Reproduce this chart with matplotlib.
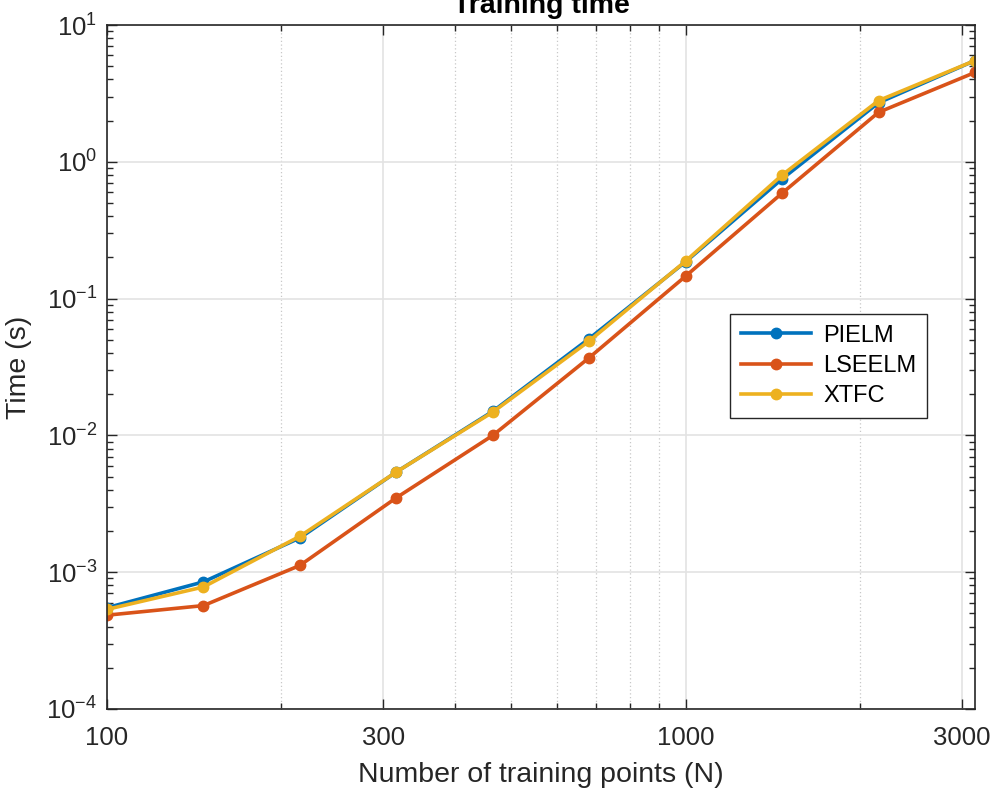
import matplotlib.pyplot as plt
from matplotlib.ticker import FixedLocator, NullFormatter, LogLocator, FuncFormatter
import numpy as np

plt.rcParams['font.family'] = ['Liberation Sans', 'DejaVu Sans']
plt.rcParams['mathtext.fontset'] = 'custom'
plt.rcParams['mathtext.rm'] = 'Liberation Sans'

# number of training points
n_points = [100, 146.8, 215.4, 316.2, 464.2, 681.3, 1000, 1467.8, 2154.4, 3162.3]

# training time (s)
pielm = [5.5e-4, 8.5e-4, 1.78e-3, 5.4e-3, 0.0150, 0.051, 0.186, 0.75, 2.7, 5.5]
lseelm = [4.85e-4, 5.7e-4, 1.12e-3, 3.5e-3, 0.0100, 0.037, 0.146, 0.59, 2.3, 4.5]
xtfc = [5.35e-4, 7.8e-4, 1.83e-3, 5.4e-3, 0.0148, 0.049, 0.188, 0.80, 2.8, 5.5]

series = [('PIELM', pielm, '#0072BD'),
          ('LSEELM', lseelm, '#D95319'),
          ('XTFC', xtfc, '#EDB120')]

xticks = [100, 300, 1000, 3000]
xticklabels = ['100', '300', '1000', '3000']

fig = plt.figure(figsize=(9.95, 7.96), dpi=100)
ax = fig.add_axes([107 / 995, 1 - 709 / 796, (975 - 107) / 995, (709 - 25) / 796])

for name, vals, col in series:
    ax.plot(n_points, vals, '-o', color=col, lw=2.6, ms=7.5, label=name)

ax.set_xscale('log')
ax.set_yscale('log')
ax.set_xlim(100, 3162.3)
ax.set_ylim(1e-4, 10)

ax.xaxis.set_major_locator(FixedLocator(xticks))
ax.set_xticklabels(xticklabels)
ax.xaxis.set_minor_locator(FixedLocator([200, 400, 500, 600, 700, 800, 900, 2000]))
ax.xaxis.set_minor_formatter(NullFormatter())
ax.yaxis.set_major_locator(LogLocator(base=10, numticks=10))
ax.yaxis.set_major_formatter(FuncFormatter(
    lambda v, p: r'$\mathregular{10^{%d}}$' % round(np.log10(v))))
ax.yaxis.set_minor_locator(LogLocator(base=10, subs=np.arange(2, 10), numticks=20))
ax.yaxis.set_minor_formatter(NullFormatter())

ax.grid(True, which='major', color='#e3e3e3', lw=1.2)
ax.grid(True, which='minor', axis='x', color='#c8c8c8', lw=0.9, ls=(0, (1, 2)))
ax.set_axisbelow(True)

ax.tick_params(which='both', direction='in', top=True, right=True, colors='#262626',
               labelsize=18.5, labelcolor='#262626')
ax.tick_params(which='major', length=7, width=1)
ax.tick_params(which='minor', length=4, width=1)
ax.tick_params(axis='x', pad=12)
ax.tick_params(axis='y', pad=7)
for sp in ax.spines.values():
    sp.set_color('#262626')
    sp.set_linewidth(1.2)

ax.set_xlabel('Number of training points (N)', fontsize=20.5, color='#262626', labelpad=9)
ax.set_ylabel('Time (s)', fontsize=20.5, color='#262626', labelpad=10)
ax.set_title('Training time', fontsize=20.5, fontweight='bold', pad=8.6)

leg = ax.legend(loc='upper left', bbox_to_anchor=((730 - 107) / 868, 1 - (314 - 25) / 684),
                fontsize=17, fancybox=False, framealpha=1, edgecolor='#262626',
                handlelength=3.0, borderpad=0.45, labelspacing=0.35, handletextpad=0.5,
                borderaxespad=0)
leg.get_frame().set_linewidth(1.0)

fig.savefig('out.png', dpi=100)
